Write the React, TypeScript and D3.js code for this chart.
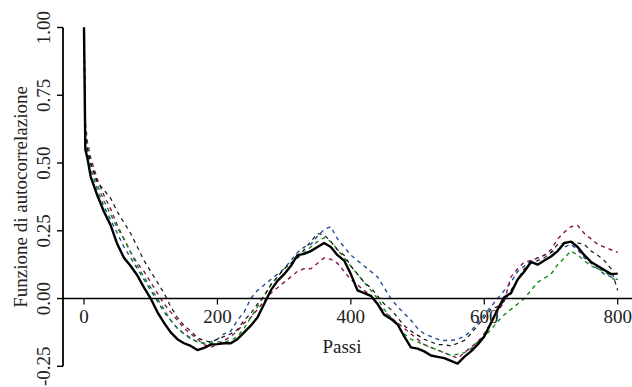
import * as d3 from 'd3'

const W = 632
const H = 387

// lags shared by every series
const lags = [0, 2, 5, 10, 20, 30, 40, 50, 60, 70, 80, 90, 100, 110, 120, 130, 140, 150, 160, 170, 180, 190,
  200, 210, 220, 230, 240, 250, 260, 270, 280, 290, 300, 310, 320, 330, 340, 350, 360, 370, 380, 390,
  400, 410, 420, 430, 440, 450, 460, 470, 480, 490, 500, 510, 520, 530, 540, 550, 560, 570, 580, 590,
  600, 610, 620, 630, 640, 650, 660, 670, 680, 690, 700, 710, 720, 730, 740, 750, 760, 770, 780, 790, 800]

const acfSolid = [1.0, 0.55, 0.52, 0.45, 0.38, 0.32, 0.27, 0.2, 0.15, 0.12, 0.085, 0.04, 0.0, -0.05, -0.09, -0.125, -0.15, -0.165, -0.175, -0.19, -0.182, -0.17,
  -0.168, -0.165, -0.165, -0.15, -0.125, -0.1, -0.07, -0.02, 0.03, 0.065, 0.09, 0.12, 0.16, 0.165, 0.175, 0.19, 0.205, 0.19, 0.16, 0.14,
  0.09, 0.03, 0.02, 0.01, -0.02, -0.06, -0.075, -0.095, -0.14, -0.18, -0.185, -0.195, -0.21, -0.215, -0.22, -0.23, -0.24, -0.215, -0.195, -0.17,
  -0.14, -0.09, -0.04, 0.005, 0.02, 0.07, 0.1, 0.135, 0.125, 0.14, 0.155, 0.175, 0.205, 0.21, 0.19, 0.16, 0.135, 0.12, 0.105, 0.09, 0.092]

const acfBlackDash = [1.0, 0.6, 0.55, 0.5, 0.43, 0.4, 0.37, 0.32, 0.28, 0.24, 0.19, 0.14, 0.1, 0.06, 0.02, -0.03, -0.07, -0.1, -0.12, -0.145, -0.155, -0.16,
  -0.15, -0.14, -0.13, -0.115, -0.08, -0.055, -0.02, 0.01, 0.05, 0.08, 0.11, 0.13, 0.15, 0.18, 0.21, 0.24, 0.235, 0.21, 0.18, 0.16,
  0.12, 0.09, 0.06, 0.04, 0.01, -0.02, -0.04, -0.07, -0.1, -0.12, -0.135, -0.15, -0.16, -0.17, -0.17, -0.175, -0.165, -0.155, -0.13, -0.1,
  -0.07, -0.04, -0.03, -0.01, 0.03, 0.07, 0.11, 0.13, 0.14, 0.15, 0.17, 0.2, 0.205, 0.21, 0.205, 0.2, 0.175, 0.16, 0.14, 0.11, 0.03]

const acfMaroon = [1.0, 0.65, 0.58, 0.52, 0.44, 0.38, 0.33, 0.27, 0.22, 0.17, 0.13, 0.1, 0.06, 0.02, -0.02, -0.05, -0.08, -0.11, -0.13, -0.15, -0.17, -0.18,
  -0.17, -0.155, -0.14, -0.12, -0.09, -0.07, -0.04, -0.01, 0.02, 0.04, 0.06, 0.08, 0.1, 0.11, 0.11, 0.13, 0.15, 0.145, 0.13, 0.1,
  0.07, 0.05, 0.03, 0.01, -0.02, -0.05, -0.07, -0.09, -0.11, -0.13, -0.15, -0.17, -0.18, -0.19, -0.2, -0.21, -0.22, -0.2, -0.18, -0.16,
  -0.13, -0.09, -0.05, -0.01, 0.08, 0.11, 0.135, 0.14, 0.15, 0.16, 0.18, 0.22, 0.245, 0.265, 0.27, 0.24, 0.22, 0.2, 0.19, 0.18, 0.17]

const acfGreen = [1.0, 0.62, 0.56, 0.5, 0.42, 0.36, 0.31, 0.26, 0.22, 0.17, 0.12, 0.08, 0.04, 0.0, -0.04, -0.08, -0.11, -0.13, -0.15, -0.16, -0.165, -0.165,
  -0.16, -0.16, -0.155, -0.14, -0.11, -0.07, -0.03, 0.01, 0.05, 0.08, 0.11, 0.13, 0.15, 0.17, 0.19, 0.21, 0.225, 0.21, 0.18, 0.15,
  0.12, 0.09, 0.06, 0.03, 0.0, -0.04, -0.07, -0.1, -0.13, -0.15, -0.16, -0.17, -0.18, -0.19, -0.2, -0.21, -0.205, -0.2, -0.185, -0.16,
  -0.14, -0.115, -0.085, -0.06, -0.04, -0.02, 0.0, 0.03, 0.06, 0.075, 0.09, 0.125, 0.15, 0.175, 0.16, 0.14, 0.12, 0.11, 0.1, 0.08, 0.06]

const acfBlue = [1.0, 0.6, 0.55, 0.48, 0.4, 0.34, 0.29, 0.24, 0.19, 0.15, 0.11, 0.07, 0.03, -0.01, -0.05, -0.08, -0.11, -0.13, -0.145, -0.16, -0.165, -0.16,
  -0.15, -0.13, -0.12, -0.08, -0.05, 0.0, 0.03, 0.05, 0.07, 0.09, 0.11, 0.14, 0.17, 0.19, 0.2, 0.23, 0.255, 0.265, 0.22, 0.19,
  0.16, 0.14, 0.12, 0.1, 0.08, 0.04, 0.0, -0.03, -0.055, -0.08, -0.11, -0.13, -0.14, -0.15, -0.155, -0.155, -0.15, -0.14, -0.12, -0.09,
  -0.06, -0.03, 0.0, 0.03, 0.06, 0.1, 0.12, 0.14, 0.15, 0.16, 0.17, 0.18, 0.19, 0.2, 0.18, 0.15, 0.13, 0.11, 0.09, 0.08, 0.07]

const xTicks = [0, 200, 400, 600, 800]
const yTicks = [-0.25, 0, 0.25, 0.5, 0.75, 1]

const series = [
  { values: acfBlue, color: '#1f4f93', width: 1.4, dash: '4,4' },
  { values: acfMaroon, color: '#8a1350', width: 1.4, dash: '4,4' },
  { values: acfGreen, color: '#178a17', width: 1.4, dash: '4,4' },
  { values: acfBlackDash, color: '#111111', width: 1.2, dash: '4,4' },
  { values: acfSolid, color: '#000000', width: 2.4, dash: null },
]

export default function App() {
  const axisX = 63
  const x = d3.scaleLinear().domain([0, 800]).range([84, 617.7])
  const y = d3.scaleLinear().domain([-0.25, 1]).range([366.3, 27.5])
  const font = '"Liberation Serif", "Times New Roman", serif'

  const line = d3.line<number>()
    .x((_, i) => x(lags[i]))
    .y(d => y(d))

  return (
    <svg width={W} height={H} style={{ position: 'absolute', left: 0, top: 0 }} fontFamily={font}>
      <rect width={W} height={H} fill="#fff" />

      {series.map((s, i) => (
        <path key={i} d={line(s.values) ?? ''} fill="none" stroke={s.color}
          strokeWidth={s.width} strokeDasharray={s.dash ?? undefined} strokeLinejoin="round" />
      ))}

      {/* horizontal axis at zero */}
      <line x1={axisX} x2={W} y1={y(0)} y2={y(0)} stroke="#000" strokeWidth={1.6} />
      {xTicks.map(t => (
        <g key={t}>
          <line x1={x(t)} x2={x(t)} y1={y(0)} y2={y(0) + 6} stroke="#000" strokeWidth={1.2} />
          <text x={x(t)} y={323} textAnchor="middle" fontSize={19} fill="#222">{t}</text>
        </g>
      ))}
      <text x={342} y={353} textAnchor="middle" fontSize={19} fill="#222">Passi</text>

      {/* vertical axis */}
      <line x1={axisX} x2={axisX} y1={y(1)} y2={y(-0.25)} stroke="#000" strokeWidth={1.8} />
      {yTicks.map(t => (
        <g key={t}>
          <line x1={axisX - 6} x2={axisX} y1={y(t)} y2={y(t)} stroke="#000" strokeWidth={1.4} />
          <text transform={`translate(50,${y(t)}) rotate(-90)`} textAnchor="middle" fontSize={19} fill="#222">
            {t.toFixed(2)}
          </text>
        </g>
      ))}
      <text transform={`translate(27,${(y(1) + y(-0.25)) / 2}) rotate(-90)`} textAnchor="middle" fontSize={19} fill="#222">
        Funzione di autocorrelazione
      </text>
    </svg>
  )
}
